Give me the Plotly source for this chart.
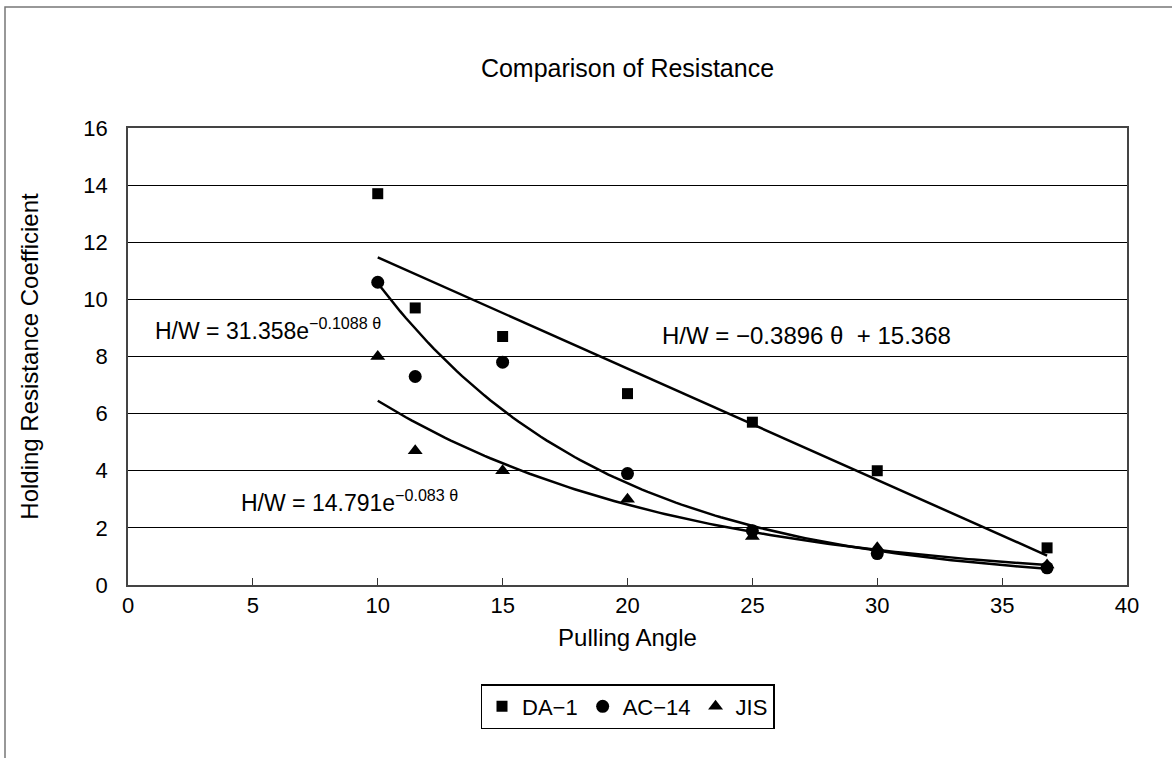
import numpy as np
import plotly.graph_objects as go

# Data
angles = [10, 11.5, 15, 20, 25, 30, 36.8]
da1 = [13.7, 9.7, 8.7, 6.7, 5.7, 4.0, 1.3]
ac14 = [10.6, 7.3, 7.8, 3.9, 1.9, 1.1, 0.6]
jis = [8.0, 4.7, 4.0, 3.0, 1.7, 1.3, 0.7]

# Trendline coefficients as printed on the chart
lin_slope, lin_icept = -0.3896, 15.368
ac_a, ac_b = 31.358, -0.1088
jis_a, jis_b = 14.791, -0.083

FONT = "Liberation Sans"

W, H = 1172, 758
L, R, T, B = 128, 45, 128, 173
PW, PH = W - L - R, H - T - B

xs = np.linspace(min(angles), max(angles), 120)

fig = go.Figure()

# trendlines
for ys in (lin_slope * xs + lin_icept, ac_a * np.exp(ac_b * xs), jis_a * np.exp(jis_b * xs)):
    fig.add_trace(go.Scatter(x=xs, y=ys, mode="lines", line=dict(color="black", width=2.5),
                             showlegend=False, hoverinfo="skip"))

fig.add_trace(go.Scatter(x=angles, y=da1, mode="markers", name="DA\u22121",
                         marker=dict(symbol="square", size=11, color="black")))
fig.add_trace(go.Scatter(x=angles, y=ac14, mode="markers", name="AC\u221214",
                         marker=dict(symbol="circle", size=13, color="black")))
fig.add_trace(go.Scatter(x=angles, y=jis, mode="markers", name="JIS",
                         marker=dict(symbol="triangle-up", size=13, color="black")))

fig.update_layout(
    width=W, height=H,
    paper_bgcolor="white", plot_bgcolor="white",
    margin=dict(l=L, r=R, t=T, b=B, autoexpand=False),
    font=dict(family=FONT, size=22, color="black"),
    title=dict(text="Comparison of Resistance", x=(L + PW / 2) / W,
               xanchor="center", y=1 - 68 / H, yanchor="middle",
               font=dict(size=25, family=FONT)),
    legend=dict(orientation="h", x=0.5, xanchor="center", y=-(684 - T - PH) / PH, yanchor="top",
                bordercolor="black", borderwidth=1.5, font=dict(size=22, family=FONT),
                itemwidth=30, tracegroupgap=0),
    showlegend=True,
)

fig.update_xaxes(range=[0, 40], dtick=5, showgrid=False, zeroline=False, automargin=False,
                 showline=True, linecolor="#444", linewidth=1.5, mirror=True,
                 ticks="inside", ticklen=7, tickcolor="#333",
                 tickfont=dict(size=22), title=dict(text="Pulling Angle", font=dict(size=24), standoff=12))
fig.update_yaxes(range=[0, 16], dtick=2, showgrid=True, gridcolor="black", gridwidth=1,
                 zeroline=False, showline=True, linecolor="#444", linewidth=1.5, mirror=True,
                 automargin=False, ticks="", tickfont=dict(size=22), ticklabelstandoff=14,
                 title=dict(text="Holding Resistance Coefficient", font=dict(size=24), standoff=38))

# equations
fig.add_annotation(x=1.0, y=8.95, xref="x", yref="y", xanchor="left", yanchor="middle",
                   text="H/W = 31.358e<sup>\u22120.1088 \u03b8</sup>", showarrow=False,
                   font=dict(size=23, family=FONT))
fig.add_annotation(x=21.3, y=8.75, xref="x", yref="y", xanchor="left", yanchor="middle",
                   text="H/W = \u22120.3896 \u03b8  + 15.368", showarrow=False,
                   font=dict(size=24, family=FONT))
fig.add_annotation(x=4.45, y=2.95, xref="x", yref="y", xanchor="left", yanchor="middle",
                   text="H/W = 14.791e<sup>\u22120.083 \u03b8</sup>", showarrow=False,
                   font=dict(size=23, family=FONT))

# outer chart frame (partially cropped in reference)
fig.add_shape(type="rect", xref="paper", yref="paper",
              x0=(5 - L) / PW, x1=1.2, y0=-0.5, y1=1 + (T - 7) / PH,
              line=dict(color="#777", width=1.5), fillcolor="rgba(0,0,0,0)", layer="below")

fig.write_html("out.html", config={"displayModeBar": False},
               post_script="document.body.style.margin='0px';document.body.style.overflow='hidden';")
